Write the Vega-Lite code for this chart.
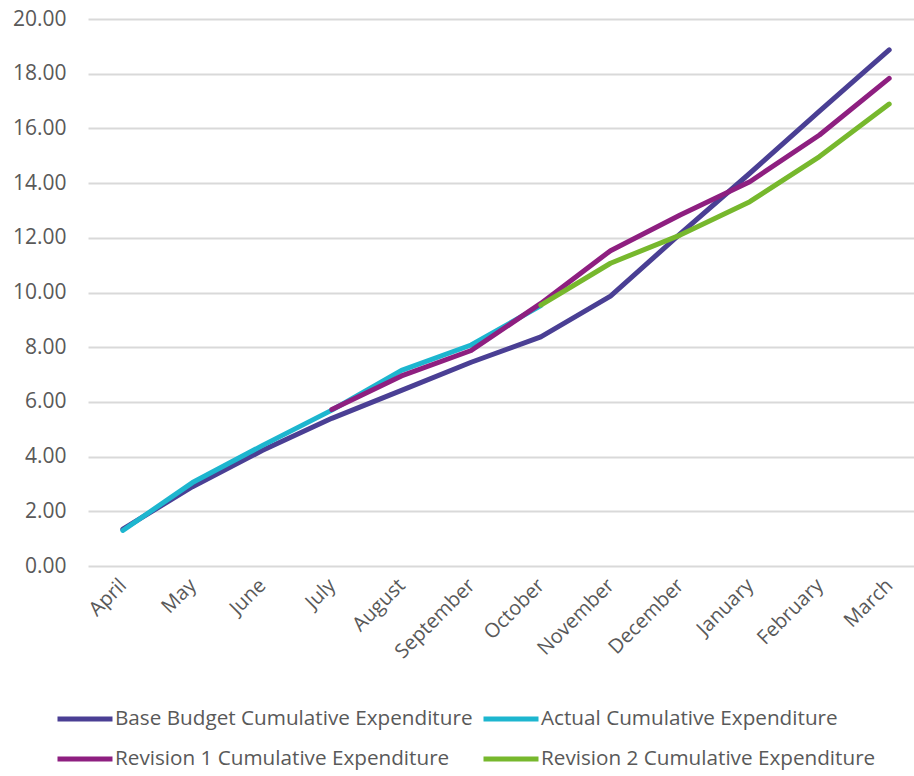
{
  "$schema": "https://vega.github.io/schema/vega-lite/v6.json",
  "autosize": {"type": "none"},
  "padding": {"left": 88, "top": 19, "right": 0, "bottom": 210},
  "width": 836,
  "height": 547,
  "background": "white",
  "config": {
    "view": {"stroke": null},
    "font": "Open Sans",
    "axis": {"labelFont": "Open Sans", "labelColor": "#595959", "labelFontSize": 20}
  },
  "data": {
    "values": [
      {"month": "April", "series": "Base Budget Cumulative Expenditure", "value": 1.35},
      {"month": "May", "series": "Base Budget Cumulative Expenditure", "value": 2.9},
      {"month": "June", "series": "Base Budget Cumulative Expenditure", "value": 4.22},
      {"month": "July", "series": "Base Budget Cumulative Expenditure", "value": 5.4},
      {"month": "August", "series": "Base Budget Cumulative Expenditure", "value": 6.42},
      {"month": "September", "series": "Base Budget Cumulative Expenditure", "value": 7.45},
      {"month": "October", "series": "Base Budget Cumulative Expenditure", "value": 8.38},
      {"month": "November", "series": "Base Budget Cumulative Expenditure", "value": 9.87},
      {"month": "December", "series": "Base Budget Cumulative Expenditure", "value": 12.14},
      {"month": "January", "series": "Base Budget Cumulative Expenditure", "value": 14.36},
      {"month": "February", "series": "Base Budget Cumulative Expenditure", "value": 16.63},
      {"month": "March", "series": "Base Budget Cumulative Expenditure", "value": 18.87},
      {"month": "April", "series": "Actual Cumulative Expenditure", "value": 1.3},
      {"month": "May", "series": "Actual Cumulative Expenditure", "value": 3.05},
      {"month": "June", "series": "Actual Cumulative Expenditure", "value": 4.4},
      {"month": "July", "series": "Actual Cumulative Expenditure", "value": 5.7},
      {"month": "August", "series": "Actual Cumulative Expenditure", "value": 7.15},
      {"month": "September", "series": "Actual Cumulative Expenditure", "value": 8.08},
      {"month": "October", "series": "Actual Cumulative Expenditure", "value": 9.52},
      {"month": "July", "series": "Revision 1 Cumulative Expenditure", "value": 5.72},
      {"month": "August", "series": "Revision 1 Cumulative Expenditure", "value": 6.95},
      {"month": "September", "series": "Revision 1 Cumulative Expenditure", "value": 7.88},
      {"month": "October", "series": "Revision 1 Cumulative Expenditure", "value": 9.6},
      {"month": "November", "series": "Revision 1 Cumulative Expenditure", "value": 11.53},
      {"month": "December", "series": "Revision 1 Cumulative Expenditure", "value": 12.83},
      {"month": "January", "series": "Revision 1 Cumulative Expenditure", "value": 14.05},
      {"month": "February", "series": "Revision 1 Cumulative Expenditure", "value": 15.76},
      {"month": "March", "series": "Revision 1 Cumulative Expenditure", "value": 17.83},
      {"month": "October", "series": "Revision 2 Cumulative Expenditure", "value": 9.54},
      {"month": "November", "series": "Revision 2 Cumulative Expenditure", "value": 11.07},
      {"month": "December", "series": "Revision 2 Cumulative Expenditure", "value": 12.1},
      {"month": "January", "series": "Revision 2 Cumulative Expenditure", "value": 13.32},
      {"month": "February", "series": "Revision 2 Cumulative Expenditure", "value": 14.97},
      {"month": "March", "series": "Revision 2 Cumulative Expenditure", "value": 16.89}
    ]
  },
  "encoding": {
    "x": {
      "field": "month",
      "type": "ordinal",
      "sort": ["April", "May", "June", "July", "August", "September", "October", "November", "December", "January", "February", "March"],
      "scale": {"type": "point", "padding": 0.5},
      "axis": {"title": null, "domain": false, "ticks": false, "grid": false, "labelAngle": -45, "labelAlign": "right", "labelBaseline": "middle", "labelPadding": 16}
    },
    "y": {
      "field": "value",
      "type": "quantitative",
      "scale": {"domain": [0, 20], "nice": false},
      "axis": {"title": null, "domain": false, "ticks": false, "values": [0, 2, 4, 6, 8, 10, 12, 14, 16, 18, 20], "format": ".2f", "gridColor": "#D9D9D9", "gridWidth": 2, "labelPadding": 22, "labelFontSize": 21}
    },
    "color": {
      "field": "series",
      "type": "nominal",
      "scale": {
        "domain": ["Base Budget Cumulative Expenditure", "Actual Cumulative Expenditure", "Revision 1 Cumulative Expenditure", "Revision 2 Cumulative Expenditure"],
        "range": ["#4A3F94", "#1DB6CF", "#8E1F80", "#77B82D"]
      },
      "legend": {
        "title": null,
        "orient": "none",
        "legendX": -33,
        "legendY": 670,
        "columns": 2,
        "direction": "horizontal",
        "symbolType": "stroke",
        "symbolSize": 3025,
        "symbolStrokeWidth": 5,
        "labelFont": "Open Sans",
        "labelFontSize": 20.7,
        "labelColor": "#595959",
        "labelOffset": 0,
        "columnPadding": 0,
        "rowPadding": -7,
        "labelLimit": 500
      }
    }
  },
  "layer": [
    {"transform": [{"filter": "datum.series === 'Base Budget Cumulative Expenditure'"}], "mark": {"type": "line", "strokeWidth": 5, "strokeCap": "round", "strokeJoin": "round"}},
    {"transform": [{"filter": "datum.series === 'Actual Cumulative Expenditure'"}], "mark": {"type": "line", "strokeWidth": 5, "strokeCap": "round", "strokeJoin": "round"}},
    {"transform": [{"filter": "datum.series === 'Revision 1 Cumulative Expenditure'"}], "mark": {"type": "line", "strokeWidth": 5, "strokeCap": "round", "strokeJoin": "round"}},
    {"transform": [{"filter": "datum.series === 'Revision 2 Cumulative Expenditure'"}], "mark": {"type": "line", "strokeWidth": 5, "strokeCap": "round", "strokeJoin": "round"}}
  ]
}
